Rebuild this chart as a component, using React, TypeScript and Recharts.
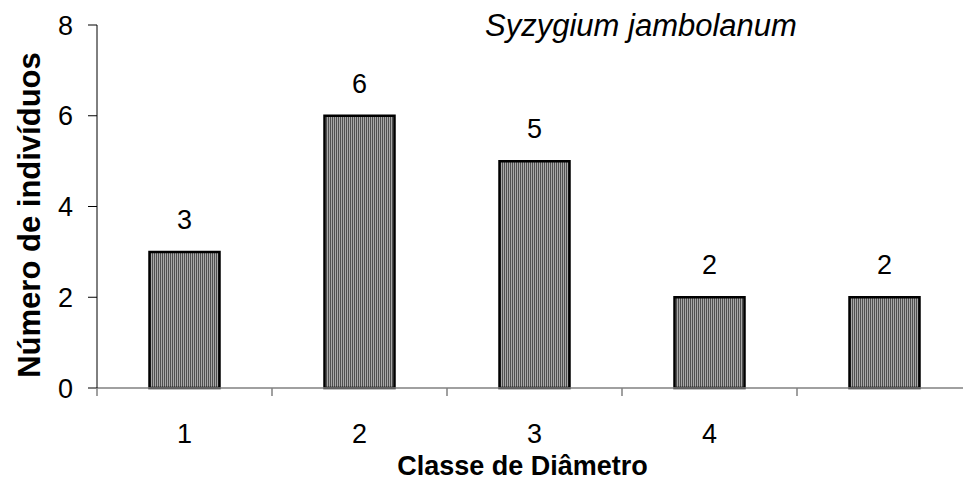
import React from "react";
import { BarChart, Bar, XAxis, YAxis, LabelList } from "recharts";

const CLASSES = ["1", "2", "3", "4", ""];
const COUNTS = [3, 6, 5, 2, 2];
const Y_TICKS = [0, 2, 4, 6, 8];

const data = CLASSES.map((c, i) => ({ classe: c, n: COUNTS[i] }));

const FONT = '"Liberation Sans", Arial, sans-serif';

// tick line sits on the category boundary, label at the centre
const XTick = (props: any) => {
  const { x, y, payload } = props;
  const off = payload?.offset ?? 0;
  return (
    <g>
      <line x1={x - off} x2={x - off} y1={y} y2={y + 8} stroke="#808080" strokeWidth={1.5} />
      <text x={x} y={y + 55} textAnchor="middle" fontSize={27} fill="#000" fontFamily={FONT}>
        {payload.value}
      </text>
    </g>
  );
};

export default function App() {
  return (
    <div
      style={{
        position: "fixed",
        left: 0,
        top: 0,
        width: 963,
        height: 499,
        overflow: "hidden",
        background: "#fff",
      }}
    >
      <BarChart
        width={975}
        height={499}
        data={data}
        margin={{ top: 25, right: 3, left: 0, bottom: 0 }}
        barCategoryGap="30%"
        style={{ position: "absolute", left: 0, top: 0 }}
      >
        <defs>
          <pattern id="stripes" width="2" height="4" patternUnits="userSpaceOnUse">
            <rect width="2" height="4" fill="#a8a8a8" />
            <rect width="1" height="4" fill="#505050" />
          </pattern>
        </defs>
        <XAxis
          dataKey="classe"
          height={111}
          axisLine={{ stroke: "#808080", strokeWidth: 1.5 }}
          tickLine={false}
          tickSize={0}
          tickMargin={0}
          interval={0}
          tick={<XTick />}
          label={{
            content: (p: any) => {
              const vb = p.viewBox;
              return (
                <g fontFamily={FONT} fill="#000">
                  <text
                    x={vb.x + vb.width / 2 - 12}
                    y={475}
                    textAnchor="middle"
                    fontSize={27}
                    fontWeight="bold"
                  >
                    Classe de Diâmetro
                  </text>
                  <text x={641} y={36} textAnchor="middle" fontSize={31} fontStyle="italic">
                    Syzygium jambolanum
                  </text>
                </g>
              );
            },
          }}
        />
        <YAxis
          width={97}
          domain={[0, 8]}
          ticks={Y_TICKS}
          interval={0}
          axisLine={{ stroke: "#000", strokeWidth: 1 }}
          tickLine={{ stroke: "#000", strokeWidth: 1 }}
          tickSize={9}
          tickMargin={15}
          tick={{ fill: "#000", fontSize: 27, fontFamily: FONT }}
          label={{
            content: () => (
              <text
                transform="translate(40, 215) rotate(-90)"
                textAnchor="middle"
                fontSize={31}
                fontWeight="bold"
                fill="#000"
                fontFamily={FONT}
              >
                Número de indivíduos
              </text>
            ),
          }}
        />
        <Bar
          dataKey="n"
          fill="url(#stripes)"
          stroke="#000"
          strokeWidth={2.5}
          isAnimationActive={false}
        >
          <LabelList
            dataKey="n"
            position="top"
            offset={23}
            fill="#000"
            fontSize={27}
            fontFamily={FONT}
          />
        </Bar>
      </BarChart>
    </div>
  );
}
